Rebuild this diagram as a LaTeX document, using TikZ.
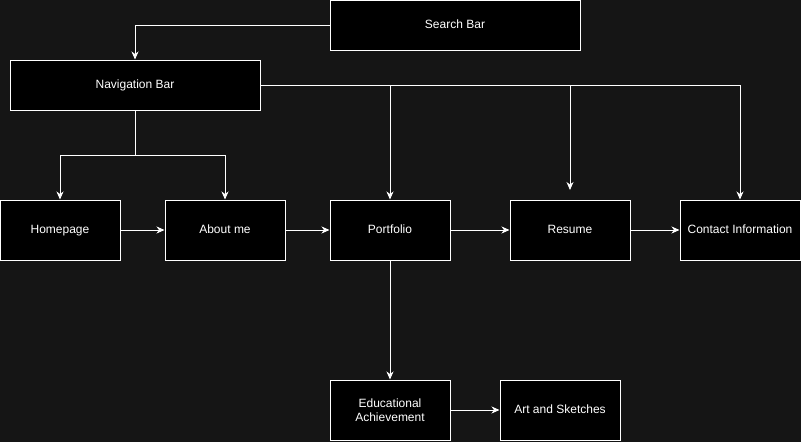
\documentclass[tikz,border=0pt]{standalone}
\usepackage{fontspec}
\setmainfont{Liberation Sans}
\usetikzlibrary{arrows.meta}
\definecolor{bg}{HTML}{151515}
\begin{document}
\begin{tikzpicture}[x=1pt,y=-1pt,
  box/.style={draw=white,fill=black,line width=1pt,text=white,minimum width=120pt,minimum height=60pt,inner sep=0pt,align=center,font=\fontsize{12}{14}\selectfont},
  one/.style={box,text height=9pt,text depth=2.5pt},
  wide/.style={one,minimum width=250pt,minimum height=50pt},
  conn/.style={draw=white,line width=1pt,-{Stealth[length=8pt,width=7pt,inset=2.5pt]}},
  plain/.style={draw=white,line width=1pt}]
\fill[bg] (0,0) rectangle (801,442);
\useasboundingbox (0,0) rectangle (801,442);
\node[wide] (search) at (455,25) {Search Bar};
\node[wide] (nav) at (135,85) {Navigation Bar};
\node[one] (home) at (60,230) {Homepage};
\node[one] (about) at (225,230) {About me};
\node[one] (port) at (390,230) {Portfolio};
\node[one] (res) at (570,230) {Resume};
\node[one] (contact) at (740,230) {Contact Information};
\node[box] (edu) at (390,410) {Educational\\Achievement};
\node[one] (art) at (560,410) {Art and Sketches};
\coordinate (split) at (135,155);
\coordinate (resend) at (570,190);
\draw[conn] (search.west) -| (nav.north);
\draw[plain] (nav.south) -- (split);
\draw[conn] (split) -| (home.north);
\draw[conn] (split) -| (about.north);
\draw[conn] (nav.east) -| (port.north);
\draw[conn] (nav.east) -| (resend);
\draw[conn] (nav.east) -| (contact.north);
\draw[conn] (home) -- (about);
\draw[conn] (about) -- (port);
\draw[conn] (port) -- (res);
\draw[conn] (res) -- (contact);
\draw[conn] (port) -- (edu);
\draw[conn] (edu) -- (art);
\end{tikzpicture}
\end{document}
